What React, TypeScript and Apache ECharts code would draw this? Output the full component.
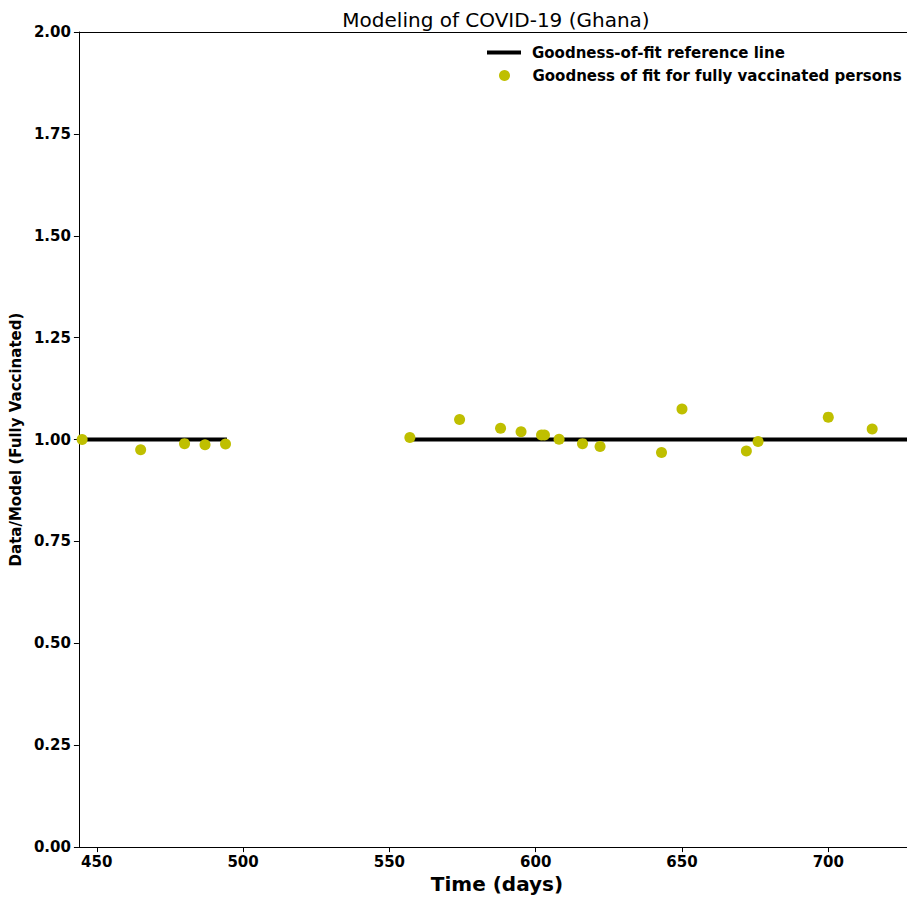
import React, { useEffect, useRef } from "react";
import * as echarts from "echarts";

const days = [445, 465, 480, 487, 494, 557, 574, 588, 595, 602, 603, 608, 616, 622, 643, 650, 672, 676, 700, 715];
const ratios = [1.0, 0.975, 0.99, 0.987, 0.989, 1.005, 1.049, 1.028, 1.019, 1.011, 1.011, 1.001, 0.99, 0.983, 0.968, 1.075, 0.972, 0.995, 1.055, 1.026];
const refSegment1 = [[444, 1], [494.5, 1]];
const refSegment2 = [[556.5, 1], [730, 1]];
const xTicks = [450, 500, 550, 600, 650, 700];

const FONT = "DejaVu Sans";
const LINE_NAME = "Goodness-of-fit reference line";
const PTS_NAME = "Goodness of fit for fully vaccinated persons";
const X_MIN = 443.9;
const X_MAX = 726.9;

export default function App() {
  const ref = useRef<HTMLDivElement>(null);
  useEffect(() => {
    if (!ref.current) return;
    const chart = echarts.init(ref.current, undefined, { renderer: "svg" });
    const legendText = {
      fontFamily: FONT,
      fontSize: 15,
      fontWeight: "bold",
      color: "#000",
      rich: { a: { fontFamily: FONT, fontSize: 15, fontWeight: "bold", color: "#000", padding: [0, 0, 0, 6] } },
    };
    chart.setOption({
      animation: false,
      title: {
        text: "Modeling of COVID-19 (Ghana)",
        left: 491,
        textAlign: "center",
        top: 5,
        textStyle: { fontFamily: FONT, fontSize: 20, fontWeight: "normal", color: "#000" },
      },
      legend: [
        {
          data: [{ name: LINE_NAME, icon: "rect" }],
          left: 482,
          top: 40,
          orient: "vertical",
          itemWidth: 34,
          itemHeight: 4,
          selectedMode: false,
          formatter: "{a|{name}}",
          textStyle: legendText,
        },
        {
          data: [{ name: PTS_NAME, icon: "circle" }],
          left: 494,
          top: 63,
          orient: "vertical",
          itemWidth: 34,
          itemHeight: 11,
          selectedMode: false,
          formatter: "{a|{name}}",
          textStyle: legendText,
        },
      ],
      grid: { left: 77, right: 0, top: 32, height: 817, containLabel: false },
      xAxis: [
        {
          type: "value",
          min: X_MIN,
          max: X_MAX,
          axisLine: { show: true, lineStyle: { color: "#000", width: 1 } },
          axisTick: { show: true, length: 5, lineStyle: { color: "#000" }, customValues: xTicks },
          splitLine: { show: false },
          axisLabel: {
            customValues: xTicks,
            fontFamily: FONT,
            fontSize: 15,
            fontWeight: "bold",
            color: "#000",
            margin: 7,
          },
          name: "Time (days)",
          nameLocation: "middle",
          nameGap: 25,
          nameTextStyle: { fontFamily: FONT, fontSize: 20, fontWeight: "bold", color: "#000", padding: [0, 0, 0, 8] },
        },
        {
          type: "value",
          position: "top",
          min: X_MIN,
          max: X_MAX,
          axisLine: { show: true, lineStyle: { color: "#000", width: 1 } },
          axisTick: { show: false },
          axisLabel: { show: false },
          splitLine: { show: false },
        },
      ],
      yAxis: {
        type: "value",
        min: 0,
        max: 2,
        interval: 0.25,
        axisLine: { show: true, lineStyle: { color: "#000", width: 1 } },
        axisTick: { show: true, length: 5, lineStyle: { color: "#000" } },
        splitLine: { show: false },
        axisLabel: {
          formatter: (v: number) => v.toFixed(2),
          fontFamily: FONT,
          fontSize: 15,
          fontWeight: "bold",
          color: "#000",
          margin: 8,
        },
        name: "Data/Model (Fully Vaccinated)",
        nameLocation: "middle",
        nameRotate: 90,
        nameGap: 45,
        nameTextStyle: { fontFamily: FONT, fontSize: 15, fontWeight: "bold", color: "#000" },
      },
      series: [
        {
          name: LINE_NAME,
          type: "line",
          data: refSegment1,
          symbol: "none",
          lineStyle: { color: "#000", width: 4 },
          itemStyle: { color: "#000" },
          z: 2,
        },
        {
          name: LINE_NAME,
          type: "line",
          data: refSegment2,
          symbol: "none",
          lineStyle: { color: "#000", width: 4 },
          itemStyle: { color: "#000" },
          z: 2,
        },
        {
          name: PTS_NAME,
          type: "scatter",
          data: days.map((d, i) => [d, ratios[i]]),
          symbolSize: 11,
          itemStyle: { color: "#bfbf00", opacity: 1 },
          z: 3,
        },
      ],
    });
    return () => chart.dispose();
  }, []);
  return (
    <div
      ref={ref}
      style={{ position: "fixed", left: 0, top: 0, width: 907, height: 899, background: "#fff" }}
    />
  );
}
